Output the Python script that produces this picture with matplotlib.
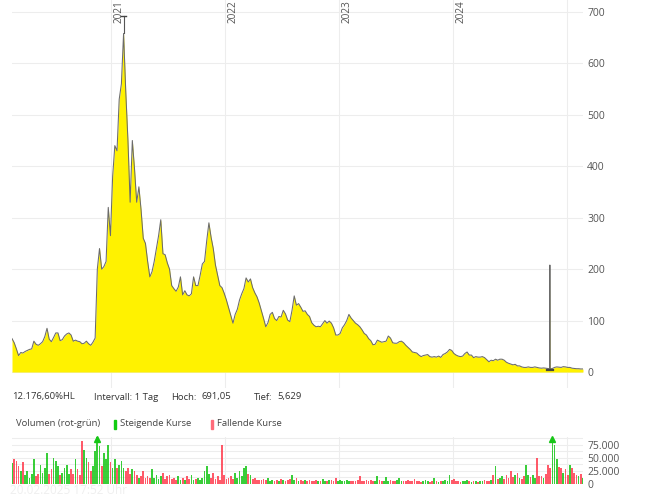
import matplotlib
matplotlib.use("Agg")
import matplotlib.pyplot as plt
import matplotlib.ticker as mticker
import numpy as np
import pandas as pd
from datetime import timedelta

plt.rcParams['font.family'] = ['Open Sans', 'DejaVu Sans']

# ---------------- data ----------------
start_date = "2020-02-20"
weekly_close = [
    65, 57, 45, 32, 38, 37, 40, 42, 44, 45,
    60, 54, 52, 55, 59, 69, 85, 64, 59, 67,
    76, 76, 61, 63, 70, 74, 76, 72, 60, 62,
    60, 59, 55, 56, 60, 55, 52, 58, 66, 200,
    240, 200, 205, 215, 320, 265, 380, 440, 430, 530,
    560, 658, 545, 450, 330, 450, 395, 330, 360, 315,
    260, 250, 215, 185, 195, 215, 240, 265, 296, 230,
    228, 212, 200, 168, 162, 157, 165, 185, 150, 158,
    150, 148, 152, 185, 168, 168, 188, 210, 215, 255,
    290, 262, 240, 208, 188, 168, 164, 153, 140, 125,
    110, 95, 112, 122, 140, 152, 162, 183, 175, 181,
    164, 154, 146, 134, 119, 104, 88, 96, 112, 116,
    104, 100, 108, 107, 120, 113, 101, 98, 120, 148,
    130, 133, 126, 118, 119, 112, 108, 96, 91, 88,
    89, 88, 94, 100, 95, 99, 95, 86, 72, 72,
    75, 86, 92, 100, 112, 105, 100, 95, 92, 88,
    82, 75, 72, 65, 61, 53, 54, 62, 60, 58,
    59, 60, 70, 66, 57, 56, 56, 59, 60, 57,
    52, 48, 44, 39, 38, 37, 33, 30, 32, 33,
    34, 30, 29, 30, 29, 31, 28.5, 34, 36, 39,
    44, 42, 36, 33, 31, 30, 31, 36, 39, 33,
    33, 28, 30, 29, 29, 30, 28, 24, 20, 23,
    22, 25, 23, 25, 25, 23, 19, 17, 15.5, 14,
    15, 12, 12, 10, 9, 9, 10, 9, 9, 10,
    9, 8, 7.5, 8, 7.5, 7, 6, 7, 9, 10,
    9.5, 9, 10.5, 10, 9, 9, 7.5, 7, 6.5, 6.5,
    6, 6,
]
weekly_volume_k = [
    40, 47, 44, 34, 25, 42, 18, 24, 12, 20,
    48, 15, 20, 37, 22, 31, 60, 20, 28, 50,
    44, 34, 18, 22, 31, 37, 20, 28, 20, 47,
    28, 18, 82, 66, 50, 42, 25, 34, 63, 110,
    72, 34, 60, 47, 75, 42, 30, 48, 30, 37,
    44, 30, 24, 31, 20, 28, 24, 18, 12, 15,
    24, 12, 15, 12, 29, 12, 18, 10, 15, 21,
    10, 15, 18, 10, 12, 8, 15, 8, 12, 8,
    15, 10, 18, 8, 10, 12, 8, 12, 24, 34,
    20, 12, 21, 10, 15, 8, 75, 18, 10, 12,
    15, 10, 21, 12, 24, 15, 31, 34, 20, 18,
    10, 12, 8, 7, 8, 10, 7, 12, 6, 8,
    6, 8, 6, 10, 7, 6, 8, 10, 18, 8,
    12, 6, 7, 5, 7, 6, 8, 5, 6, 8,
    5, 6, 10, 6, 5, 7, 8, 6, 12, 6,
    8, 5, 6, 7, 5, 6, 5, 6, 7, 15,
    6, 5, 7, 6, 8, 5, 6, 15, 7, 6,
    5, 13, 6, 7, 5, 6, 7, 12, 5, 6,
    5, 7, 6, 5, 10, 5, 6, 4, 5, 8,
    5, 4, 6, 12, 5, 4, 6, 5, 7, 6,
    18, 8, 10, 6, 5, 4, 6, 5, 7, 5,
    4, 6, 5, 4, 6, 5, 7, 5, 6, 8,
    18, 34, 10, 12, 15, 10, 18, 12, 24, 14,
    18, 21, 12, 10, 15, 36, 18, 14, 18, 12,
    49, 16, 15, 12, 20, 36, 31, 110, 74, 47,
    33, 30, 21, 28, 18, 36, 30, 21, 18, 15,
    20, 12,
]
spike_dates = ["2024-11-05", "2024-11-06"]
spike_values = [6.5, 208]
hoch = 691.05
tief = 5.629
hl_text = "12.176,60%HL"
interval_text = "Intervall: 1 Tag"
year_labels = [2021, 2022, 2023, 2024]
grid_years = [2021, 2022, 2023, 2024, 2025]
price_ticks = [0, 100, 200, 300, 400, 500, 600, 700]
volume_ticks = [0, 25000, 50000, 75000]
timestamp_text = "20.02.2025 17:52 Uhr"

# ---------------- series ----------------
dates = pd.date_range(start_date, periods=len(weekly_close), freq="7D")
price = pd.Series(weekly_close, index=dates, dtype=float)
spike = pd.Series(spike_values, index=pd.to_datetime(spike_dates), dtype=float)
price_all = pd.concat([price, spike]).sort_index()
volume = np.array(weekly_volume_k, dtype=float) * 1000

W, H = 669, 500
fig = plt.figure(figsize=(W / 100, H / 100), dpi=100)

def px_axes(left, top, right, bottom):
    return fig.add_axes([left / W, 1 - bottom / H, (right - left) / W, (bottom - top) / H])

grid_c = "#ededed"
txt_c = "#555555"

# ---------------- price panel ----------------
ax = px_axes(12, 0, 583, 388)
ax.fill_between(price_all.index, 0, price_all.values, color="#fff200", lw=0, zorder=2)
ax.plot(price_all.index, price_all.values, color="#6b6b6b", lw=0.75, zorder=3)

# high / low markers
peak_date = price.idxmax()
ax.plot([peak_date, peak_date], [price.max(), hoch], color="#555555", lw=0.8, zorder=4)
ax.plot([peak_date - timedelta(days=8), peak_date + timedelta(days=8)], [hoch, hoch],
        color="#444444", lw=1.0, zorder=4)
low_date = spike.index[-1]
ax.plot([low_date - timedelta(days=9), low_date + timedelta(days=9)], [tief - 1.5, tief - 1.5],
        color="#444444", lw=1.6, zorder=4)

ax.set_xlim(dates[0], dates[-1])
ax.set_ylim(-31, 723)
ax.set_yticks(price_ticks)
ax.yaxis.tick_right()
ax.tick_params(axis="y", length=0, pad=3, labelsize=7.5, labelcolor=txt_c)
ax.set_xticks([pd.Timestamp(f"{y}-01-01") for y in grid_years])
ax.tick_params(axis="x", length=0, labelbottom=False)
ax.grid(True, color=grid_c, lw=0.8, zorder=0)
for s in ax.spines.values():
    s.set_visible(False)

for y in year_labels:
    ax.annotate(str(y), xy=(pd.Timestamp(f"{y}-01-01"), 1.0), xycoords=("data", "axes fraction"),
                xytext=(2, 0), textcoords="offset points", rotation=90,
                ha="left", va="top", fontsize=7.2, color=txt_c)

# ---------------- info rows ----------------
info_c = "#333333"
fs_info = 6.8
row1 = 1 - 397 / H
fig.text(12 / W, row1, hl_text, fontsize=fs_info, color=info_c, va="center")
fig.text(94 / W, row1, interval_text, fontsize=fs_info, color=info_c, va="center")
fig.text(171 / W, row1, "Hoch:", fontsize=fs_info, color=info_c, va="center")
fig.text(202 / W, row1, f"{hoch:.2f}".replace(".", ","), fontsize=fs_info, color=info_c, va="center")
fig.text(254 / W, row1, "Tief:", fontsize=fs_info, color=info_c, va="center")
fig.text(277 / W, row1, f"{tief:.3f}".replace(".", ","), fontsize=fs_info, color=info_c, va="center")

leg_c = "#444444"
row2 = 1 - 424 / H
fig.text(16 / W, row2, "Volumen (rot-grün)", fontsize=fs_info, color=leg_c, va="center")
fig.patches.append(plt.Rectangle((113.5 / W, 1 - 428.5 / H), 2 / W, 9 / H,
                                 transform=fig.transFigure, color="#11cc11", figure=fig))
fig.text(120 / W, row2, "Steigende Kurse", fontsize=fs_info, color=leg_c, va="center")
fig.patches.append(plt.Rectangle((210.5 / W, 1 - 428.5 / H), 2 / W, 9 / H,
                                 transform=fig.transFigure, color="#ff6b7a", figure=fig))
fig.text(217 / W, row2, "Fallende Kurse", fontsize=fs_info, color=leg_c, va="center")

fig.text(10 / W, 1 - 491 / H, timestamp_text, fontsize=8.5, color="#efefef", va="center", zorder=0)

# ---------------- volume panel ----------------
axv = px_axes(12, 437, 583, 484)
vmax = 90000
diff = np.diff(np.concatenate([[weekly_close[0]], weekly_close]))
colors = np.where(diff >= 0, "#17c617", "#ff3d4f")
axv.bar(dates, np.minimum(volume, vmax), width=5.5, color=colors, alpha=0.85, lw=0, zorder=2)
clip = volume > vmax
for d, c in zip(dates[clip], colors[clip]):
    axv.plot([d], [vmax - 3500], marker="^", ms=4.5, color=c, zorder=3, clip_on=False)
axv.set_xlim(dates[0], dates[-1])
axv.set_ylim(0, vmax)
axv.set_yticks(volume_ticks)
axv.set_yticks([12500, 37500, 62500, 87500], minor=True)
axv.yaxis.set_major_formatter(mticker.FuncFormatter(lambda v, p: f"{int(v):,}".replace(",", ".")))
axv.yaxis.tick_right()
axv.tick_params(axis="y", which="both", length=0, pad=3, labelsize=7.5, labelcolor=txt_c)
axv.set_xticks([pd.Timestamp(f"{y}-01-01") for y in grid_years])
axv.tick_params(axis="x", length=0, labelbottom=False)
axv.grid(True, which="both", color=grid_c, lw=0.8, zorder=0)
axv.set_facecolor("none")
for s in axv.spines.values():
    s.set_visible(False)

fig.savefig("out.png", dpi=100)
